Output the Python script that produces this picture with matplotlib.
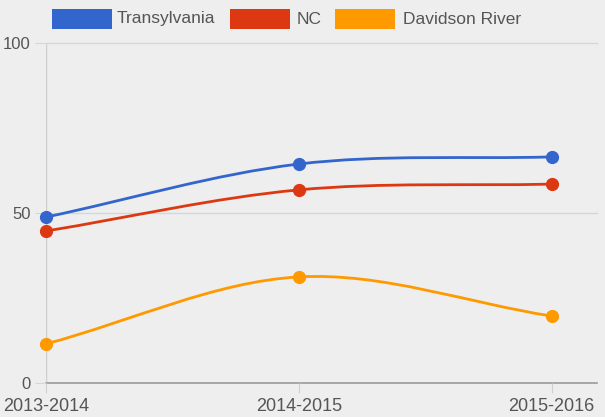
import matplotlib
matplotlib.use("Agg")
import matplotlib.pyplot as plt
from matplotlib.path import Path
from matplotlib.patches import PathPatch, Rectangle
import numpy as np

categories = ["2013-2014", "2014-2015", "2015-2016"]
transylvania = [48.8, 64.4, 66.5]
nc = [44.7, 56.8, 58.5]
davidson = [11.5, 31.2, 19.7]
series_names = ["Transylvania", "NC", "Davidson River"]
colors = ["#3366cc", "#dc3912", "#ff9900"]
yticks = [0, 50, 100]

plt.rcParams['font.family'] = ['Liberation Sans', 'DejaVu Sans']

W, H = 605, 417
fig = plt.figure(figsize=(W / 100, H / 100), dpi=100)
bg = "#eeeeee"
fig.patch.set_facecolor(bg)
ax = fig.add_axes([46 / W, 1 - 383 / H, (597 - 46) / W, (383 - 43) / H])
ax.set_facecolor(bg)

x = np.arange(len(categories), dtype=float)


def smooth_path(xs, ys):
    n = len(xs)
    tang = []
    for i in range(n):
        if i == 0:
            tang.append((ys[1] - ys[0]) / (xs[1] - xs[0]))
        elif i == n - 1:
            tang.append((ys[-1] - ys[-2]) / (xs[-1] - xs[-2]))
        else:
            tang.append((ys[i + 1] - ys[i - 1]) / (xs[i + 1] - xs[i - 1]))
    verts = [(xs[0], ys[0])]
    codes = [Path.MOVETO]
    for i in range(n - 1):
        dx = (xs[i + 1] - xs[i]) / 3
        verts += [(xs[i] + dx, ys[i] + tang[i] * dx),
                  (xs[i + 1] - dx, ys[i + 1] - tang[i + 1] * dx),
                  (xs[i + 1], ys[i + 1])]
        codes += [Path.CURVE4] * 3
    return Path(verts, codes)


ax.set_xlim(0, 2.18)
ax.set_ylim(0, 100)

# gridlines
for yv in yticks[1:]:
    ax.axhline(yv, color="#d6d6d6", lw=1, zorder=0, clip_on=False)
ax.axhline(0, color="#9a9a9a", lw=1.2, zorder=1, clip_on=False)
ax.axvline(0, color="#cfcfcf", lw=1, zorder=0)

for vals, c in zip([transylvania, nc, davidson], colors):
    p = smooth_path(x, vals)
    ax.add_patch(PathPatch(p, facecolor="none", edgecolor=c, lw=2, zorder=3, clip_on=False))
    ax.plot(x, vals, "o", color=c, ms=8.5, zorder=4, clip_on=False)

for s in ax.spines.values():
    s.set_visible(False)

ax.set_xticks(x)
ax.set_xticklabels(categories)
ax.set_yticks(yticks)
ax.set_yticklabels([str(v) for v in yticks])
ax.tick_params(axis="x", length=7, color="#cfcfcf", labelsize=13, labelcolor="#555555", pad=4)
ax.tick_params(axis="y", length=8, color="#d6d6d6", labelsize=12, labelcolor="#555555", pad=3)

# legend
leg = [(52, 112, 117), (230, 290, 297), (335, 395, 403)]
for (x0, x1, tx), c, name in zip(leg, colors, series_names):
    fig.add_artist(Rectangle((x0 / W, 1 - 29 / H), (x1 - x0) / W, 20 / H,
                             transform=fig.transFigure, facecolor=c, edgecolor="none"))
    fig.text(tx / W, 1 - 19 / H, name, fontsize=12.5, color="#555555",
             va="center", ha="left")

fig.savefig("out.png", dpi=100, facecolor=bg)
